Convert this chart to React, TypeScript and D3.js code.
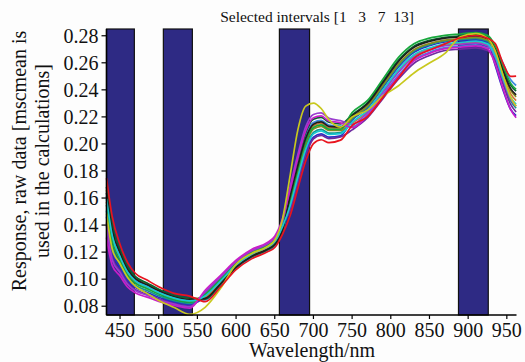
import * as d3 from "d3";

const wavelengths = [432.5, 440, 450, 460, 470, 485, 500, 520, 540, 560, 580, 600, 620, 640, 650, 660, 670, 680, 690, 700, 710, 720, 735, 750, 770, 790, 810, 830, 850, 870, 890, 910, 925, 935, 945, 955, 962];

// spectra (response, raw data)
const specRed = [.1748, .146, .1257, .112, .1042, .0993, .0944, .0895, .0875, .0834, .0944, .107, .115, .12, .1234, .1332, .1472, .1674, .1874, .2002, .2031, .201, .2028, .2136, .2202, .2346, .249, .2633, .2694, .274, .2785, .2802, .2782, .2742, .2598, .25, .2502];
const specYellow = [.1484, .122, .1114, .101, .0946, .0895, .0842, .079, .074, .0792, .0932, .111, .119, .124, .1288, .1444, .1772, .2108, .228, .2302, .2262, .218, .2124, .22, .225, .2355, .243, .2525, .2598, .267, .2792, .2816, .2782, .2688, .251, .2344, .2278];
const specMagenta = [.1308, .11, .1023, .094, .0898, .0867, .0836, .0805, .0785, .0918, .1028, .114, .122, .127, .1318, .1444, .1664, .1898, .2098, .2194, .2207, .217, .2156, .212, .221, .2355, .25, .2615, .267, .2705, .2715, .2725, .2705, .2589, .2411, .2253, .2194];
const specCyan = [.1594, .132, .1166, .105, .0986, .0944, .0902, .086, .084, .0876, .0986, .1105, .1185, .1235, .1276, .1388, .1544, .1758, .1958, .2074, .2097, .207, .2076, .216, .225, .24, .255, .266, .271, .274, .275, .276, .274, .2652, .2488, .2344, .2292];
const specBlue = [.1462, .12, .1088, .099, .0938, .0902, .0866, .083, .081, .087, .098, .11, .118, .123, .127, .138, .152, .173, .193, .205, .2075, .205, .206, .2176, .2266, .2418, .257, .2678, .2726, .2754, .2764, .2774, .2754, .258, .24, .2255, .221];
const specBlack = [.1638, .136, .1192, .107, .1002, .0958, .0914, .087, .085, .0858, .0968, .109, .117, .122, .1258, .1364, .1616, .1842, .2042, .2146, .2163, .213, .2124, .2208, .2298, .2454, .261, .2714, .2758, .2782, .2792, .2802, .2782, .2697, .2543, .2409, .2362];
const specGreen = [.155, .128, .114, .103, .097, .093, .089, .085, .083, .0888, .0998, .1115, .1195, .1245, .1288, .1404, .1592, .1814, .2014, .2122, .2141, .211, .2108, .2232, .2322, .2481, .264, .2741, .2782, .2803, .2813, .2823, .2803, .2724, .2576, .2448, .2404];
const specDarkGreen = [.1682, .14, .1218, .109, .1018, .0972, .0926, .088, .086, .0852, .0962, .1085, .1165, .1215, .1252, .1356, .1652, .1884, .2084, .2182, .2196, .216, .2148, .2216, .2306, .2463, .262, .2723, .2766, .2789, .2799, .2809, .2789, .2715, .2565, .2435, .239];
const specPurple = [.1418, .116, .1062, .097, .0922, .0888, .0854, .082, .08, .09, .101, .1125, .1205, .1255, .13, .142, .1508, .1716, .1916, .2038, .2064, .204, .2052, .2104, .2194, .2337, .248, .2597, .2654, .2691, .2701, .2711, .2691, .2616, .2444, .2292, .2236];
const specOrange = [.1572, .13, .1153, .104, .0978, .0937, .0896, .0855, .0835, .0864, .0974, .1095, .1175, .1225, .1264, .1372, .1604, .1828, .2028, .2134, .2152, .212, .2116, .2152, .2242, .2391, .254, .2651, .2702, .2733, .2743, .2753, .2733, .267, .251, .237, .232];
const specTeal = [.1506, .124, .1114, .101, .0954, .0916, .0878, .084, .082, .0882, .0992, .111, .119, .124, .1282, .1396, .1556, .1772, .1972, .2086, .2108, .208, .2084, .2184, .2274, .2427, .258, .2687, .2734, .2761, .2771, .2781, .2761, .2634, .2466, .2318, .2264];
const specLightBlue = [.1616, .134, .1179, .106, .0994, .0951, .0908, .0865, .0845, .0846, .0956, .108, .116, .121, .1246, .1348, .1628, .1856, .2056, .2158, .2174, .214, .2132, .2128, .2218, .2364, .251, .2624, .2678, .2712, .2722, .2732, .2712, .27, .2598, .2474, .2432];
const specViolet = [.1396, .114, .1049, .096, .0914, .0881, .0848, .0815, .0795, .0906, .1016, .113, .121, .126, .1306, .1428, .1688, .1926, .2126, .2218, .2229, .219, .2172, .2144, .2234, .2382, .253, .2642, .2694, .2726, .2736, .2746, .2726, .2643, .2477, .2331, .2278];
const specOlive = [.166, .138, .1205, .108, .101, .0965, .092, .0875, .0855, .087, .098, .11, .118, .123, .127, .138, .158, .18, .2, .211, .213, .21, .21, .2192, .2282, .2436, .259, .2696, .2742, .2768, .2778, .2788, .2768, .2688, .2532, .2396, .2348];

// selected intervals and their wavelength bounds (nm)
const selectedIntervals = [1, 3, 7, 13];
const intervalLo = [432.5, 506, 656, 887.5];
const intervalHi = [468.5, 543.5, 695, 926];

const xTicks = [450, 500, 550, 600, 650, 700, 750, 800, 850, 900, 950];
const yTicks = [0.08, 0.1, 0.12, 0.14, 0.16, 0.18, 0.2, 0.22, 0.24, 0.26, 0.28];

const series = [
  { values: specBlue, color: "#2430c8" },
  { values: specTeal, color: "#14968a" },
  { values: specPurple, color: "#6e2aa0" },
  { values: specOlive, color: "#8a8a1e" },
  { values: specOrange, color: "#d07830" },
  { values: specLightBlue, color: "#3c8ce0" },
  { values: specDarkGreen, color: "#0a6432" },
  { values: specGreen, color: "#18a83c" },
  { values: specBlack, color: "#1e1e1e" },
  { values: specViolet, color: "#9a3cd0" },
  { values: specCyan, color: "#18c8d2" },
  { values: specMagenta, color: "#c81ec8" },
  { values: specYellow, color: "#c8c81e" },
  { values: specRed, color: "#e8141e" },
];

const FONT = "'Liberation Serif', 'Times New Roman', serif";

export default function App() {
  const width = 525;
  const height = 362;
  const margin = { top: 29, right: 8.5, bottom: 47, left: 106.5 };

  const x = d3.scaleLinear().domain([432.5, 962.5]).range([margin.left, width - margin.right]);
  const y = d3.scaleLinear().domain([0.0735, 0.285]).range([height - margin.bottom, margin.top]);

  const line = d3
    .line<number>()
    .x((_, i) => x(wavelengths[i]))
    .y((d) => y(d))
    .curve(d3.curveMonotoneX);

  const y0 = y.range()[0];
  const yTop = y(0.285);

  // MATLAB-like num2str spacing: "[1   3   7  13]"
  const titleText =
    "Selected intervals [" +
    selectedIntervals.map((d, i) => (i === 0 ? String(d) : String(d).padStart(4, " "))).join("") +
    "]";

  return (
    <svg width={width} height={height} style={{ position: "absolute", left: 0, top: 0, background: "#fdfdfd" }} fontFamily={FONT}>
      {/* selected interval bars */}
      {selectedIntervals.map((iv, i) => (
        <rect
          key={iv}
          x={x(intervalLo[i])}
          y={yTop}
          width={x(intervalHi[i]) - x(intervalLo[i])}
          height={y0 - yTop}
          fill="#2e2a84"
          stroke="#111"
          strokeWidth={1.2}
        />
      ))}

      {/* spectra */}
      {series.map((s, i) => (
        <path key={i} d={line(s.values) ?? ""} fill="none" stroke={s.color} strokeWidth={1.7} strokeLinejoin="round" />
      ))}

      {/* x axis */}
      <line x1={x.range()[0]} x2={x.range()[1]} y1={y0} y2={y0} stroke="#000" strokeWidth={1.5} />
      {xTicks.map((t) => (
        <g key={t} transform={`translate(${x(t)},${y0})`}>
          <line y1={0} y2={4} stroke="#000" strokeWidth={1.2} />
          <text y={22} textAnchor="middle" fontSize={20} fill="#111">{t}</text>
        </g>
      ))}

      {/* y axis */}
      <line x1={margin.left} x2={margin.left} y1={yTop} y2={y0} stroke="#000" strokeWidth={1.5} />
      {yTicks.map((t) => (
        <g key={t} transform={`translate(${margin.left},${y(t)})`}>
          <line x1={-5} x2={0} stroke="#000" strokeWidth={1.2} />
          <text x={-8} dy="0.35em" textAnchor="end" fontSize={20} fill="#111">{d3.format(".2f")(t)}</text>
        </g>
      ))}

      {/* title */}
      <text x={317} y={22} textAnchor="middle" fontSize={15.5} fill="#111" style={{ whiteSpace: "pre" }}>
        {titleText}
      </text>

      {/* axis labels */}
      <text x={312} y={357} textAnchor="middle" fontSize={20} fill="#111">Wavelength/nm</text>
      <g transform="translate(26,161) rotate(-90)">
        <text textAnchor="middle" fontSize={20} fill="#111">Response, raw data [mscmean is</text>
        <text y={23} textAnchor="middle" fontSize={20} fill="#111">used in the calculations]</text>
      </g>
    </svg>
  );
}
